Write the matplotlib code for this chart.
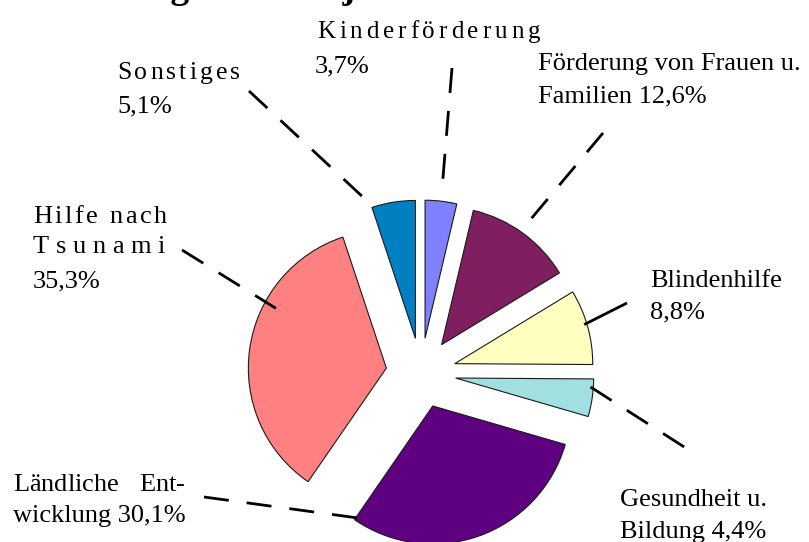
import numpy as np
import matplotlib
matplotlib.use('Agg')
import matplotlib.pyplot as plt
from matplotlib.font_manager import FontProperties, findfont, get_font

# ================= Daten =================
categories = ['Kinderförderung', 'Förderung von Frauen u. Familien', 'Blindenhilfe',
              'Gesundheit u. Bildung', 'Ländliche Entwicklung', 'Hilfe nach Tsunami',
              'Sonstiges']
shares = [3.7, 12.6, 8.8, 4.4, 30.1, 35.3, 5.1]
colors = ['#8080FF', '#7F1F5F', '#FFFFC0', '#A0E0E0', '#5F0080', '#FF8080', '#0080C0']
title = 'Verteilung nach Projekten'

# ================= Layout (Pixel, y nach unten) =================
W, H, DPI = 809, 542, 100
SERIF = 'Liberation Serif'
CX, CY, R, EXPL = 421, 373, 138, 35


def pct(v):
    return f"{v:.1f}".replace('.', ',') + '%'


def P(x, y):
    return (x - CX) / R, (CY - y) / R


# label lines: (text, x, baseline, size, width, mode)
label_lines = [
    [('Kinderförderung', 317, 38, 18, 223, 'letters'), (pct(shares[0]), 315, 72, 19, None, None)],
    [('Förderung von Frauen u.', 538, 70, 19, None, None),
     ('Familien ' + pct(shares[1]), 538, 102, 19, None, None)],
    [('Blindenhilfe', 650, 287, 19, None, None), (pct(shares[2]), 650, 318, 19, None, None)],
    [('Gesundheit u.', 620, 506, 19, None, None),
     ('Bildung ' + pct(shares[3]), 620, 538, 19, None, None)],
    [('Ländliche Ent-', 13, 491, 19, 172, 'words'),
     ('wicklung ' + pct(shares[4]), 13, 522, 19, None, None)],
    [('Hilfe nach', 33, 223, 19, 134, 'letters'), ('Tsunami', 33, 253, 19, 132, 'letters'),
     (pct(shares[5]), 33, 287, 19, None, None)],
    [('Sonstiges', 117, 79, 18.5, 123, 'letters'), (pct(shares[6]), 117, 112, 19, None, None)],
]

# leader: (label side start px, angle from wedge apex, radius fraction, dashed, start at wedge)
leaders = [
    ((452, 68), 83.5, 1.09, True, False),
    ((603, 133), 54.7, 1.09, True, False),
    ((627, 303), 16.8, 0.98, False, False),
    ((692, 452), -3.8, 0.98, True, True),
    ((204, 497), -123.0, 0.97, True, False),
    ((182, 250), 151.6, 0.91, True, False),
    ((249, 91), 109.1, 1.047, True, False),
]


def draw_text(ax, s, x, y, size, width=None, mode=None, weight='normal'):
    fp = FontProperties(family=SERIF, size=size, weight=weight)
    if width is None:
        ax.text(*P(x, y), s, fontproperties=fp, ha='left', va='baseline', color='black')
        return
    font = get_font(findfont(fp))
    font.set_size(size, DPI)
    adv = [font.load_char(ord(c)).linearHoriAdvance / 65536 for c in s]
    if mode == 'words':
        gaps = [i for i, c in enumerate(s) if c == ' ']
    else:
        gaps = list(range(len(s) - 1))
    step = (width - sum(adv)) / max(len(gaps), 1)
    pos = x
    for i, c in enumerate(s):
        if c != ' ':
            ax.text(*P(pos, y), c, fontproperties=fp, ha='left', va='baseline', color='black')
        pos += adv[i] + (step if i in gaps else 0)


fig = plt.figure(figsize=(W / DPI, H / DPI), dpi=DPI)
ax = fig.add_axes([0, 0, 1, 1])

wedges, _ = ax.pie(shares, colors=colors, startangle=90, counterclock=False,
                   explode=[EXPL / R] * len(shares), radius=1,
                   wedgeprops=dict(edgecolor='#1a1a1a', linewidth=0.8))

for i, (start, ang, rf, dashed, from_wedge) in enumerate(leaders):
    cx, cy = wedges[i].center
    ex = cx + rf * np.cos(np.radians(ang))
    ey = cy + rf * np.sin(np.radians(ang))
    sx, sy = P(*start)
    xs, ys = ([ex, sx], [ey, sy]) if from_wedge else ([sx, ex], [sy, ey])
    ls = (0, (9, 6.5)) if dashed else '-'
    ax.plot(xs, ys, color='black', lw=2, linestyle=ls, solid_capstyle='butt',
            dash_capstyle='butt', zorder=3)

for lines in label_lines:
    for s, x, y, size, width, mode in lines:
        draw_text(ax, s, x, y, size, width, mode)

# Titel liegt zum Grossteil ausserhalb des Bildes, nur Unterlaengen sichtbar
draw_text(ax, title, 22, -2, 27, weight='bold')

ax.set_xlim(-CX / R, (W - CX) / R)
ax.set_ylim((CY - H) / R, CY / R)
ax.set_aspect('auto')
ax.axis('off')

fig.savefig('out.png', dpi=DPI)
